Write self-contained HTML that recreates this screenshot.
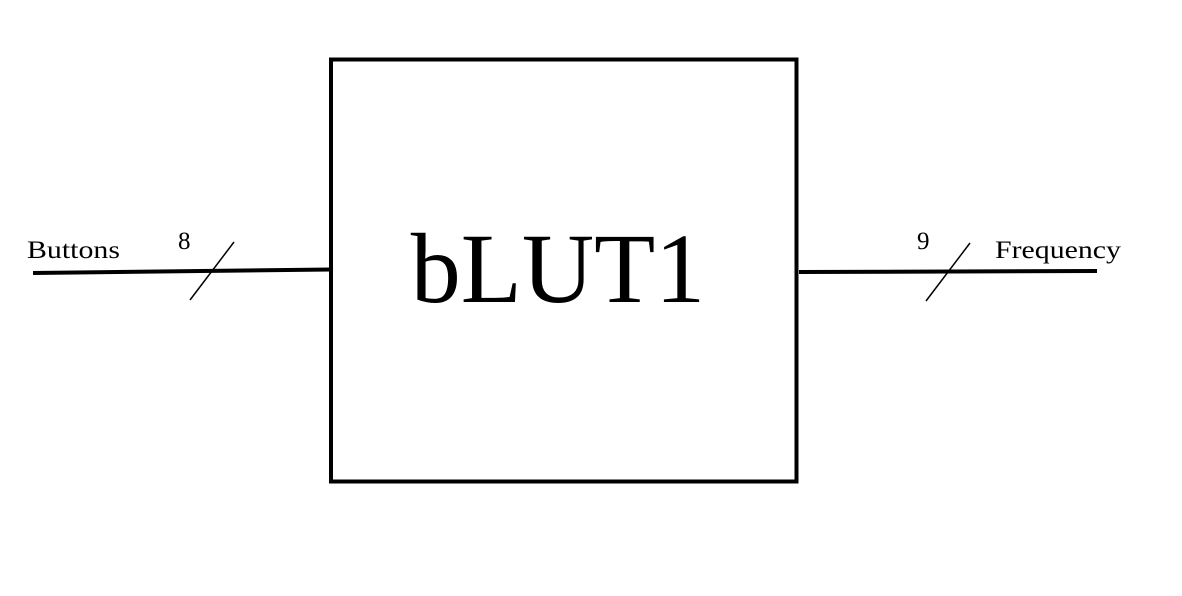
<!DOCTYPE html>
<html><head><meta charset="utf-8"><style>
html,body{margin:0;padding:0;background:#fff;}
svg{display:block;}
text{font-family:"Liberation Serif",serif;fill:#000;}
</style></head><body>
<svg width="1182" height="596" viewBox="0 0 1182 596" xmlns="http://www.w3.org/2000/svg">
<rect x="331" y="59.5" width="465.5" height="422" fill="none" stroke="#000" stroke-width="4"/>
<line x1="33" y1="273" x2="331" y2="269.5" stroke="#000" stroke-width="4"/>
<line x1="799" y1="272" x2="1097" y2="271" stroke="#000" stroke-width="4"/>
<line x1="190" y1="300" x2="234" y2="242" stroke="#000" stroke-width="1.5"/>
<line x1="926" y1="301" x2="970" y2="243" stroke="#000" stroke-width="1.5"/>
<text x="558" y="302" font-size="100" text-anchor="middle">bLUT1</text>
<text x="27" y="258" font-size="25" textLength="93" lengthAdjust="spacingAndGlyphs">Buttons</text>
<text x="178" y="249" font-size="25">8</text>
<text x="917" y="249" font-size="25">9</text>
<text x="995" y="258" font-size="25" textLength="126" lengthAdjust="spacingAndGlyphs">Frequency</text>
</svg>
</body></html>
